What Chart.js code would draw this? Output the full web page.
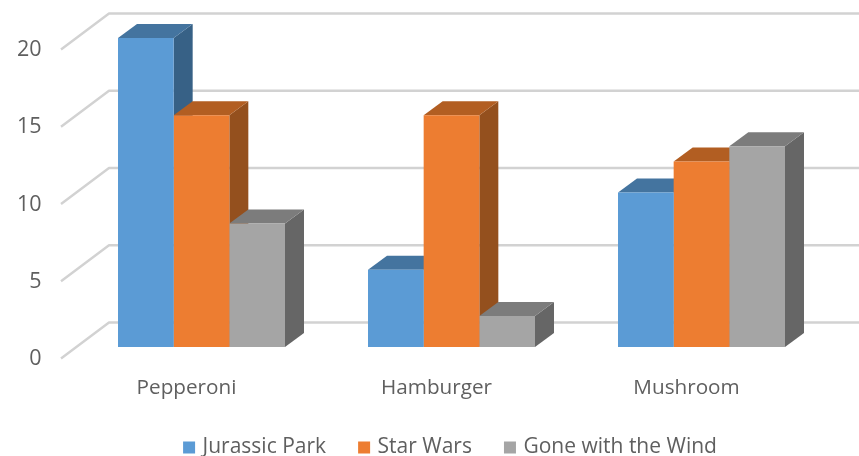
<!DOCTYPE html>
<html><head><meta charset="utf-8">
<style>html,body{margin:0;padding:0;background:#fff}canvas{display:block}</style>
<script src="https://cdn.jsdelivr.net/npm/chart.js@4"></script>
</head><body>
<canvas id="c" width="859" height="456"></canvas>
<script>
const categories = ["Pepperoni", "Hamburger", "Mushroom"];
const jurassicPark = [20, 5, 10];
const starWars = [15, 15, 12];
const goneWithTheWind = [8, 2, 13];

const seriesColors = ["#5B9BD5", "#ED7D31", "#A5A5A5"];
const topColors = ["#44749F", "#B25E22", "#7C7C7C"];
const sideColors = ["#376186", "#94501E", "#666666"];
const BAR_DX = 19, BAR_DY = 14;
const GRID = "#d2d2d2";

function poly(ctx, pts, fill){
  ctx.beginPath();
  pts.forEach((p,i)=> i ? ctx.lineTo(p[0],p[1]) : ctx.moveTo(p[0],p[1]));
  ctx.closePath();
  ctx.fillStyle = fill;
  ctx.fill();
}
const depthPlugin = {
  id: "depth",
  beforeDatasetsDraw(chart){
    const ctx = chart.ctx, y = chart.scales.y, area = chart.chartArea;
    ctx.save();
    ctx.strokeStyle = GRID; ctx.lineWidth = 2.4; ctx.lineJoin = "round";
    y.ticks.forEach(t=>{
      const py = y.getPixelForValue(t.value);
      ctx.beginPath();
      ctx.moveTo(area.left - 15.5, py + 11.5);
      ctx.lineTo(area.left + 32.5, py - 24.5);
      ctx.lineTo(chart.width, py - 24.5);
      ctx.stroke();
    });
    categories.forEach((_, i)=>{
      chart.data.datasets.forEach((ds, d)=>{
        const b = chart.getDatasetMeta(d).data[i];
        const l = b.x - b.width/2, r = b.x + b.width/2, t = b.y, base = b.base;
        poly(ctx, [[r,t],[r+BAR_DX,t-BAR_DY],[r+BAR_DX,base-BAR_DY],[r,base]], sideColors[d]);
        poly(ctx, [[l,t],[l+BAR_DX,t-BAR_DY],[r+BAR_DX,t-BAR_DY],[r,t]], topColors[d]);
      });
    });
    ctx.restore();
  }
};

new Chart(document.getElementById("c"), {
  type: "bar",
  data: {
    labels: categories,
    datasets: [
      {label: "Jurassic Park", data: jurassicPark, backgroundColor: seriesColors[0]},
      {label: "Star Wars", data: starWars, backgroundColor: seriesColors[1]},
      {label: "Gone with the Wind", data: goneWithTheWind, backgroundColor: seriesColors[2]}
    ]
  },
  options: {
    responsive: false,
    animation: false,
    layout: {autoPadding: false, padding: {top: 38, right: 32.5, left: 0, bottom: 0}},
    datasets: {bar: {categoryPercentage: 0.668, barPercentage: 1}},
    plugins: {
      tooltip: {enabled: false},
      legend: {
        position: "bottom",
        fullSize: false,
        maxHeight: 54,
        labels: {
          boxWidth: 6, boxHeight: 6, padding: 35,
          color: "#5f5f5f",
          font: {family: "'Open Sans'", size: 21},
          generateLabels(chart){
            return chart.data.datasets.map((ds,i)=>({
              text: ds.label, fillStyle: ds.backgroundColor, strokeStyle: ds.backgroundColor,
              lineWidth: 6, fontColor: "#5f5f5f", hidden: false, datasetIndex: i
            }));
          }
        }
      }
    },
    scales: {
      x: {
        grid: {display: false, drawTicks: false},
        border: {display: false},
        ticks: {color: "#5f5f5f", font: {family: "'Open Sans'", size: 20.7}, padding: 29, labelOffset: -15, maxRotation: 0},
        afterFit(s){ s.height = 55; s.paddingTop = 0; s.paddingBottom = 0; }
      },
      y: {
        min: 0, max: 20,
        grid: {display: false, drawTicks: false},
        border: {display: false},
        ticks: {stepSize: 5, color: "#5f5f5f", font: {family: "'Open Sans'", size: 21.5}, padding: 35, labelOffset: 12},
        afterFit(s){ s.width = 76.5; s.paddingTop = 0; s.paddingBottom = 0; }
      }
    }
  },
  plugins: [depthPlugin]
});
</script>
</body></html>
